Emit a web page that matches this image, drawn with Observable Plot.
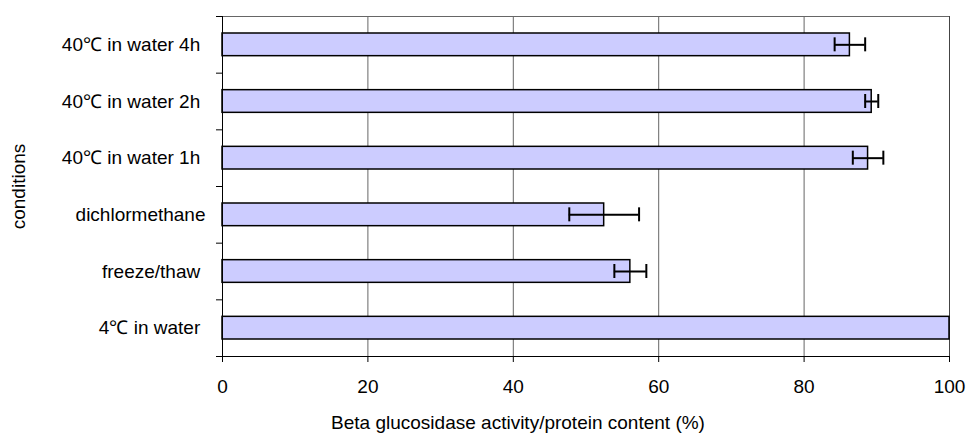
<!DOCTYPE html>
<html><head><meta charset="utf-8">
<script src="https://cdn.jsdelivr.net/npm/d3@7"></script>
<script src="https://cdn.jsdelivr.net/npm/@observablehq/plot@0.6"></script>
<style>body{margin:0;background:#fff} svg text{white-space:pre}</style>
</head><body><div id="chart"></div>
<script>
const conditions = ["4℃ in water ", "freeze/thaw ", "dichlormethane", "40℃ in water 1h ", "40℃ in water 2h ", "40℃ in water 4h "];
const activity = [100, 56.1, 52.5, 88.8, 89.3, 86.3];
const errors = [0, 2.2, 4.8, 2.1, 0.9, 2.1];
const xTicks = [0, 20, 40, 60, 80, 100];
const gridValues = [20, 40, 60, 80];
const xLabel = "Beta glucosidase activity/protein content (%)";
const yLabel = "conditions";

const data = conditions.map((c, i) => ({condition: c, i, value: activity[i], err: errors[i]}));
const errData = data.filter(d => d.err > 0);

const chart = Plot.plot({
  width: 968, height: 435,
  marginLeft: 222, marginRight: 19, marginTop: 16, marginBottom: 79,
  style: {fontFamily: "'Liberation Sans', Arial, sans-serif", fontSize: "19px", background: "#fff", color: "#000"},
  x: {domain: [0, 100], ticks: xTicks, tickSize: 6, tickPadding: 17, label: null},
  y: {domain: [0, conditions.length], ticks: d3.range(0, conditions.length + 1), tickSize: 6, tickFormat: () => "", label: null},
  marks: [
    Plot.ruleX(gridValues, {stroke: "#666"}),
    Plot.ruleX([100], {stroke: "#444"}),
    Plot.ruleY([conditions.length], {stroke: "#666"}),
    Plot.rect(data, {x1: 0, x2: "value", y1: "i", y2: d => d.i + 1, insetTop: 17, insetBottom: 17, fill: "#ccccff", stroke: "#000", strokeWidth: 1.5}),
    Plot.ruleY(errData, {x1: d => d.value - d.err, x2: d => d.value + d.err, y: d => d.i + 0.5, stroke: "#000", strokeWidth: 2}),
    Plot.ruleX(errData, {x: d => d.value - d.err, y1: d => d.i + 0.5, y2: d => d.i + 0.5, insetTop: -7, insetBottom: -7, stroke: "#000", strokeWidth: 2}),
    Plot.ruleX(errData, {x: d => d.value + d.err, y1: d => d.i + 0.5, y2: d => d.i + 0.5, insetTop: -7, insetBottom: -7, stroke: "#000", strokeWidth: 2}),
    Plot.ruleX([0], {stroke: "#000"}),
    Plot.ruleY([0], {stroke: "#000"}),
    Plot.text(data, {x: 0, y: d => d.i + 0.5, text: "condition", textAnchor: "end", dx: -17}),
    Plot.text([yLabel], {frameAnchor: "left", textAnchor: "middle", lineAnchor: "middle", rotate: -90, dx: -204}),
    Plot.text([xLabel], {frameAnchor: "bottom", textAnchor: "middle", lineAnchor: "middle", dx: -68, dy: 66.5})
  ]
});
document.getElementById("chart").appendChild(chart);
</script>
</body></html>
